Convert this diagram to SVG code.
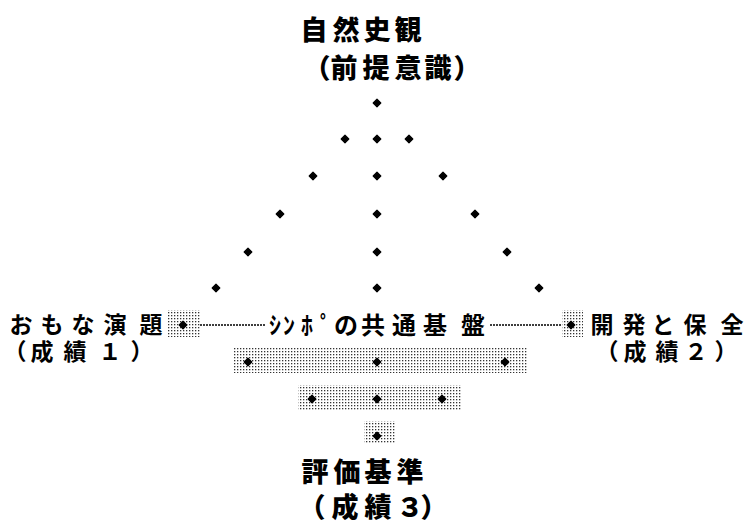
<svg xmlns="http://www.w3.org/2000/svg" width="749" height="523" viewBox="0 0 749 523">
<style>
text{font-family:"Noto Sans CJK JP","Noto Sans",sans-serif;fill:#000;text-anchor:middle;dominant-baseline:central}
.h{font-size:27px;font-weight:900}
.m{font-size:23px;font-weight:700}
.k{font-size:24px;font-weight:700}
.conn{stroke:#000;stroke-width:1.6;stroke-dasharray:2 1;fill:none}
.shade{fill:url(#dots)}
</style>
<defs>
<pattern id="dots" patternUnits="userSpaceOnUse" width="3" height="3">
<rect x="0" y="0" width="1.3" height="1.3" fill="#333"/>
</pattern>
<path id="dot" d="M0,-3.8 L3.8,0 L0,3.8 L-3.8,0Z" fill="#000" stroke="#000" stroke-width="1.2" stroke-linejoin="round"/>
</defs>
<rect width="749" height="523" fill="#fff"/>

<g id="shading">
<rect class="shade" x="168" y="310" width="32" height="27"/>
<rect class="shade" x="562" y="310" width="21" height="27"/>
<rect class="shade" x="233" y="347" width="294" height="26"/>
<rect class="shade" x="298" y="385" width="164" height="25"/>
<rect class="shade" x="364" y="421" width="31" height="23"/>
</g>

<g id="connectors">
<line class="conn" x1="200" y1="325" x2="266" y2="325"/>
<line class="conn" x1="490" y1="325" x2="562" y2="325"/>
<g id="triangle-dots">
<use href="#dot" x="377" y="103"/>
<use href="#dot" x="345" y="139"/><use href="#dot" x="377" y="139"/><use href="#dot" x="409" y="139"/>
<use href="#dot" x="313" y="176"/><use href="#dot" x="377" y="176"/><use href="#dot" x="443" y="176"/>
<use href="#dot" x="280" y="214"/><use href="#dot" x="377" y="214"/><use href="#dot" x="475" y="214"/>
<use href="#dot" x="248" y="252"/><use href="#dot" x="377" y="252"/><use href="#dot" x="507" y="252"/>
<use href="#dot" x="216" y="288"/><use href="#dot" x="377" y="288"/><use href="#dot" x="539" y="288"/>
<use href="#dot" x="183" y="325"/><use href="#dot" x="571" y="325"/>
<use href="#dot" x="248" y="362"/><use href="#dot" x="377" y="362"/><use href="#dot" x="505" y="362"/>
<use href="#dot" x="312" y="399"/><use href="#dot" x="377" y="399"/><use href="#dot" x="442" y="399"/>
<use href="#dot" x="377" y="436"/>
</g>
</g>

<g id="node-top">
<text class="h" x="314 346 377 408" y="28">自然史観</text>
<text class="h" x="317 344 376 408 438 467" y="66">（前提意識）</text>
</g>

<g id="node-left">
<text class="m" x="21 52 83 115 151" y="323">おもな演題</text>
<text class="m" x="15 42 75 110 142" y="350">（成績１）</text>
</g>

<g id="node-center">
<text class="k" x="275 289 307 326 346 373 404 435 473" y="323">ｼﾝﾎﾟの共通基盤</text>
</g>

<g id="node-right">
<text class="m" x="602 634 663 695 732" y="323">開発と保全</text>
<text class="m" x="607 635 667 696 726" y="350">（成績２）</text>
</g>

<g id="node-bottom">
<text class="h" x="315 347 378 410" y="470">評価基準</text>
<text class="h" x="312 345 378 410 434" y="505">（成績３）</text>
</g>
</svg>
